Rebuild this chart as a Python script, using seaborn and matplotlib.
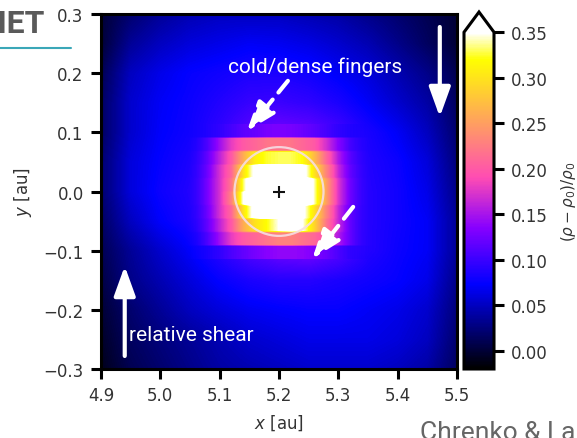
import matplotlib
matplotlib.use("Agg")
import numpy as np
import matplotlib.pyplot as plt
from matplotlib.patches import Circle
from matplotlib.lines import Line2D
import seaborn as sns

# Coarse grid nodes of the density-contrast map [au]
x_au = [4.90, 4.95, 5.00, 5.05, 5.10, 5.15, 5.20, 5.25, 5.30, 5.35, 5.40, 5.45, 5.50]
y_au = [0.30, 0.25, 0.20, 0.15, 0.10, 0.05, 0.00, -0.05, -0.10, -0.15, -0.20, -0.25, -0.30]

# (rho - rho0)/rho0 along each y row of the coarse grid, x = 4.90 ... 5.50
row_y_p030 = [0.000, 0.020, 0.035, 0.045, 0.050, 0.050, 0.050, 0.045, 0.040, 0.030, 0.020, 0.010, 0.000]
row_y_p025 = [0.000, 0.035, 0.050, 0.060, 0.065, 0.070, 0.068, 0.063, 0.055, 0.045, 0.030, 0.015, 0.000]
row_y_p020 = [0.010, 0.050, 0.065, 0.075, 0.080, 0.085, 0.085, 0.080, 0.070, 0.060, 0.045, 0.030, 0.010]
row_y_p015 = [0.015, 0.055, 0.070, 0.078, 0.088, 0.098, 0.100, 0.095, 0.085, 0.070, 0.055, 0.040, 0.015]
row_y_p010 = [0.015, 0.055, 0.072, 0.080, 0.095, 0.115, 0.125, 0.120, 0.105, 0.085, 0.070, 0.050, 0.020]
row_y_p005 = [0.020, 0.060, 0.075, 0.085, 0.120, 0.150, 0.150, 0.150, 0.120, 0.088, 0.078, 0.060, 0.025]
row_y_000 = [0.020, 0.060, 0.078, 0.088, 0.120, 0.150, 0.150, 0.150, 0.120, 0.090, 0.080, 0.065, 0.030]
row_y_m005 = [0.015, 0.050, 0.072, 0.085, 0.120, 0.150, 0.150, 0.150, 0.120, 0.090, 0.080, 0.070, 0.035]
row_y_m010 = [0.010, 0.035, 0.055, 0.072, 0.092, 0.112, 0.125, 0.130, 0.115, 0.090, 0.078, 0.070, 0.035]
row_y_m015 = [0.005, 0.030, 0.045, 0.060, 0.075, 0.085, 0.090, 0.090, 0.085, 0.080, 0.075, 0.065, 0.030]
row_y_m020 = [0.000, 0.020, 0.035, 0.050, 0.060, 0.068, 0.072, 0.075, 0.075, 0.070, 0.065, 0.055, 0.025]
row_y_m025 = [-0.005, 0.015, 0.025, 0.035, 0.045, 0.055, 0.060, 0.065, 0.065, 0.065, 0.060, 0.050, 0.020]
row_y_m030 = [-0.010, 0.010, 0.020, 0.030, 0.040, 0.045, 0.050, 0.055, 0.055, 0.055, 0.050, 0.040, 0.015]

# Azimuthal bands around the planet: 10 bands (y = 0.114 ... -0.114),
# sampled at x = 5.04, 5.06, ..., 5.36
core_x_range = [5.03, 5.37]
core_y_range = [-0.114, 0.114]
band_p5 = [0.078, 0.082, 0.088, 0.095, 0.105, 0.115, 0.120, 0.128, 0.130, 0.128, 0.122, 0.115, 0.105, 0.095, 0.088, 0.083, 0.080]
band_p4 = [0.082, 0.090, 0.110, 0.145, 0.180, 0.200, 0.210, 0.220, 0.220, 0.220, 0.210, 0.200, 0.170, 0.135, 0.105, 0.090, 0.083]
band_p3 = [0.085, 0.095, 0.120, 0.160, 0.200, 0.260, 0.310, 0.325, 0.330, 0.330, 0.320, 0.270, 0.210, 0.155, 0.115, 0.095, 0.087]
band_p2 = [0.087, 0.098, 0.125, 0.170, 0.210, 0.300, 0.360, 0.420, 0.420, 0.420, 0.370, 0.300, 0.230, 0.165, 0.120, 0.098, 0.088]
band_p1 = [0.088, 0.100, 0.130, 0.170, 0.220, 0.330, 0.420, 0.450, 0.450, 0.450, 0.420, 0.340, 0.250, 0.175, 0.125, 0.100, 0.090]
band_m1 = [0.088, 0.100, 0.130, 0.170, 0.230, 0.350, 0.430, 0.450, 0.450, 0.450, 0.420, 0.340, 0.250, 0.175, 0.125, 0.100, 0.090]
band_m2 = [0.086, 0.097, 0.125, 0.170, 0.210, 0.300, 0.370, 0.420, 0.420, 0.400, 0.360, 0.300, 0.230, 0.165, 0.120, 0.098, 0.090]
band_m3 = [0.084, 0.094, 0.120, 0.160, 0.200, 0.260, 0.300, 0.320, 0.350, 0.370, 0.350, 0.290, 0.220, 0.165, 0.120, 0.097, 0.090]
band_m4 = [0.080, 0.088, 0.110, 0.145, 0.180, 0.200, 0.210, 0.220, 0.230, 0.230, 0.220, 0.210, 0.190, 0.155, 0.120, 0.097, 0.088]
band_m5 = [0.072, 0.078, 0.085, 0.095, 0.108, 0.118, 0.128, 0.135, 0.140, 0.140, 0.138, 0.132, 0.122, 0.108, 0.095, 0.088, 0.083]

x_ticks = [4.9, 5.0, 5.1, 5.2, 5.3, 5.4, 5.5]
y_ticks = [-0.3, -0.2, -0.1, 0.0, 0.1, 0.2, 0.3]
cbar_ticks = [0.00, 0.05, 0.10, 0.15, 0.20, 0.25, 0.30, 0.35]

planet_x, planet_y, hill_radius = 5.2, 0.0, 0.075

contrast = np.array([row_y_p030, row_y_p025, row_y_p020, row_y_p015, row_y_p010,
                     row_y_p005, row_y_000, row_y_m005, row_y_m010, row_y_m015,
                     row_y_m020, row_y_m025, row_y_m030])
bands = np.array([band_p5, band_p4, band_p3, band_p2, band_p1,
                  band_m1, band_m2, band_m3, band_m4, band_m5])

sns.set_theme(style="ticks")
plt.rcParams["font.family"] = ["DejaVu Sans"]
plt.rcParams["mathtext.fontset"] = "dejavusans"

cmap = sns.color_palette("gnuplot2", as_cmap=True)
norm = dict(cmap=cmap, vmin=-0.02, vmax=0.35)

W, H = 577, 439
fig = plt.figure(figsize=(W / 100, H / 100), dpi=100)
ax = fig.add_axes([101 / W, (H - 370) / H, 356 / W, 355 / H])
cax = fig.add_axes([464 / W, (H - 370) / H, 30 / W, (370 - 13) / H])

dx = (x_au[1] - x_au[0]) / 2
dy = (y_au[0] - y_au[1]) / 2
im = ax.imshow(contrast, origin="upper", interpolation="bilinear", aspect="auto",
               interpolation_stage="data",
               extent=[x_au[0] - dx, x_au[-1] + dx, y_au[-1] - dy, y_au[0] + dy], **norm)

# each band is flat in y and smooth along x; its side columns fade into the
# coarse map underneath
band_img = np.repeat(bands, 8, axis=0)
band_alpha = np.ones_like(band_img)
band_alpha[:, [0, -1]] = 0.0
band_alpha[:, [1, -2]] = 0.5
ax.imshow(band_img, alpha=band_alpha, origin="upper", interpolation="bilinear",
          interpolation_stage="data", aspect="auto",
          extent=[*core_x_range, *core_y_range], **norm)
ax.set_xlim(4.9, 5.5)
ax.set_ylim(-0.3, 0.3)

ax.set_xticks(x_ticks)
ax.set_yticks(y_ticks)
ax.set_xticklabels([f"{v:.1f}" for v in x_ticks])
ax.set_yticklabels([f"{v:.1f}".replace("-", "\u2212") for v in y_ticks])
for s in ax.spines.values():
    s.set_linewidth(2.2)
    s.set_color("black")
ax.tick_params(direction="out", length=7.5, width=2.2, labelsize=12, pad=5,
               color="black", labelcolor="#333333")
ax.set_xlabel("$x$ [au]", fontsize=12, color="#333333", labelpad=6)
ax.set_ylabel("$y$ [au]", fontsize=12, color="#333333", labelpad=7)

# Hill sphere and planet position
ax.add_patch(Circle((planet_x, planet_y), hill_radius, fill=False,
                    edgecolor="#f6dde4", lw=1.6, alpha=0.9))
ax.plot([planet_x], [planet_y], "+", color="#111111", ms=8, mew=1.5)

# Annotations
txt_kw = dict(color="white", fontsize=15, family=["Roboto", "DejaVu Sans"])
ax.text(5.261, 0.212, "cold/dense fingers", ha="center", va="center", **txt_kw)
ax.text(4.947, -0.241, "relative shear", ha="left", va="center", **txt_kw)

solid = dict(arrowstyle="-|>,head_length=1.8,head_width=0.65", color="white",
             lw=3, mutation_scale=10, shrinkA=0, shrinkB=0)
dashed = dict(solid, linestyle=(0, (3.6, 2.2)))
ax.annotate("", xy=(5.146, 0.102), xytext=(5.215, 0.187), arrowprops=dashed)
ax.annotate("", xy=(5.256, -0.114), xytext=(5.325, -0.026), arrowprops=dashed)
ax.annotate("", xy=(5.471, 0.126), xytext=(5.471, 0.278), arrowprops=solid)
ax.annotate("", xy=(4.940, -0.126), xytext=(4.940, -0.278), arrowprops=solid)

# Colour bar
cb = fig.colorbar(im, cax=cax, extend="max", extendfrac=0.06, ticks=cbar_ticks)
cb.outline.set_linewidth(2.2)
cb.outline.set_edgecolor("black")
cax.set_yticklabels([f"{v:.2f}" for v in cbar_ticks])
cax.tick_params(direction="out", length=7.5, width=2.2, labelsize=12, pad=5,
                color="black", labelcolor="#333333")
cb.set_label(r"$(\rho-\rho_0)/\rho_0$", fontsize=11, color="#333333", labelpad=8)

# Slide header and credit
fig.text(44 / W, (H - 33) / H, "NET", ha="right", va="baseline", fontsize=23,
         fontweight="bold", color="#5a5a5a", family=["Roboto", "DejaVu Sans"])
fig.add_artist(Line2D([0, 71 / W], [(H - 49) / H] * 2, color="#3aa7b8", lw=1.5))
fig.text(420 / W, (H - 440) / H, "Chrenko & Lambrechts", ha="left", va="baseline",
         fontsize=19, color="#666666", family=["Roboto", "DejaVu Sans"])

fig.savefig("out.png", dpi=100)
